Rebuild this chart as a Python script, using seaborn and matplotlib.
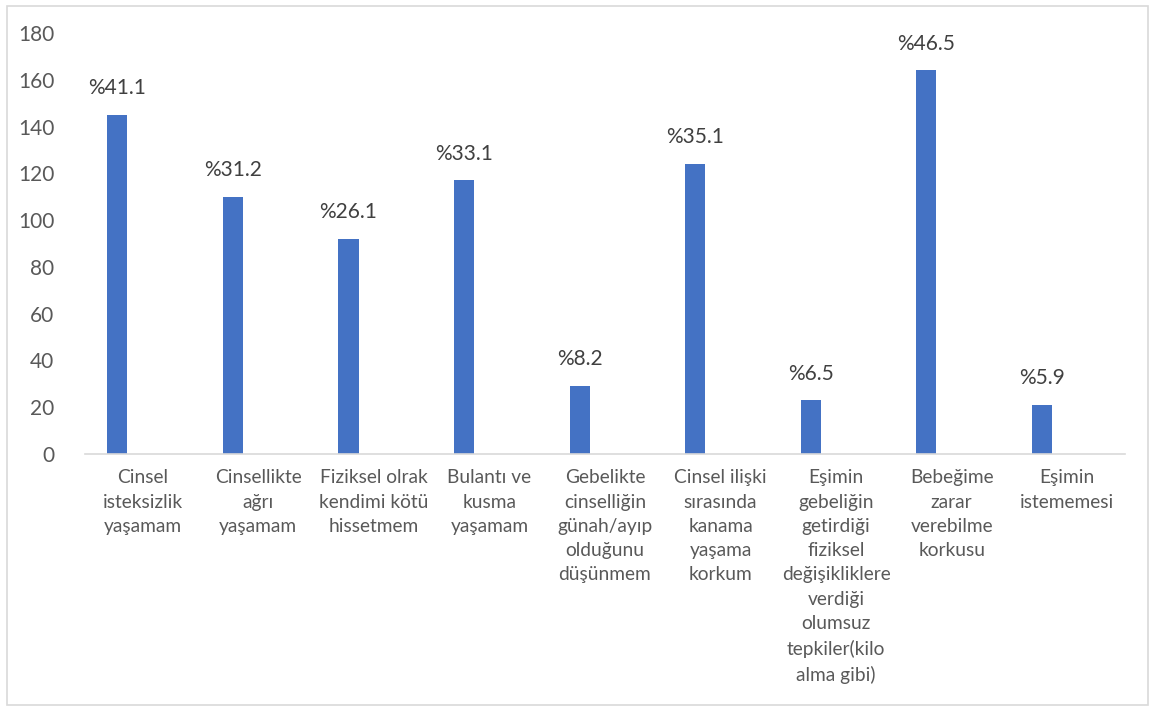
import matplotlib
matplotlib.use('Agg')
import matplotlib.pyplot as plt
from matplotlib.patches import Rectangle
import seaborn as sns
import numpy as np

# --- veri ---
categories = [
    'Cinsel\nisteksizlik\nyaşamam',
    'Cinsellikte\nağrı\nyaşamam',
    'Fiziksel olrak\nkendimi kötü\nhissetmem',
    'Bulantı ve\nkusma\nyaşamam',
    'Gebelikte\ncinselliğin\ngünah/ayıp\nolduğunu\ndüşünmem',
    'Cinsel ilişki\nsırasında\nkanama\nyaşama\nkorkum',
    'Eşimin\ngebeliğin\ngetirdiği\nfiziksel\ndeğişikliklere\nverdiği\nolumsuz\ntepkiler(kilo\nalma gibi)',
    'Bebeğime\nzarar\nverebilme\nkorkusu',
    'Eşimin\nistememesi',
]
counts = [145, 110, 92, 117, 29, 124, 23, 164, 21]
pct_labels = ['%41.1', '%31.2', '%26.1', '%33.1', '%8.2', '%35.1', '%6.5', '%46.5', '%5.9']
yticks = [0, 20, 40, 60, 80, 100, 120, 140, 160, 180]

sns.set_style('white')
plt.rcParams['font.family'] = ['Lato', 'DejaVu Sans']

fig = plt.figure(figsize=(11.55, 7.09), dpi=100)
ax = fig.add_axes([0.0736, 0.3597, 0.9004, 0.5938])

sns.barplot(x=categories, y=counts, color='#4472C4', width=0.174,
            saturation=1, ax=ax)

# Excel tarzı: çubuklar kategori içinde sola kaymış
shift = -0.22
for p in ax.patches:
    p.set_x(p.get_x() + shift)
    p.set_edgecolor('none')

for i, (v, lab) in enumerate(zip(counts, pct_labels)):
    ax.annotate(lab, xy=(i + shift, v), xytext=(0, 12), textcoords='offset points',
                ha='center', va='bottom', fontsize=15, color='#404040')

ax.set_xlim(-0.5, len(categories) - 0.5)
ax.set_ylim(0, 180)
ax.set_yticks(yticks)
ax.tick_params(axis='y', length=0, labelsize=15, labelcolor='#595959', pad=22)
ax.tick_params(axis='x', which='major', length=0, labelsize=13.8,
               labelcolor='#595959', pad=11)
ax.set_xticks(np.arange(-0.5, len(categories)), minor=True)
ax.tick_params(axis='x', which='minor', length=6, color='#D9D9D9', width=1.2)
for t in ax.get_xticklabels():
    t.set_linespacing(1.52)

for s in ['top', 'right', 'left']:
    ax.spines[s].set_visible(False)
ax.spines['bottom'].set_color('#D9D9D9')
ax.spines['bottom'].set_linewidth(1.2)
ax.set_xlabel('')
ax.set_ylabel('')

# grafik alanı çerçevesi
fig.patches.append(Rectangle((0.006, 0.006), 0.988, 0.986, transform=fig.transFigure,
                             fill=False, edgecolor='#D9D9D9', linewidth=1.2))

plt.savefig('out.png', dpi=100, facecolor='white')
plt.close()
